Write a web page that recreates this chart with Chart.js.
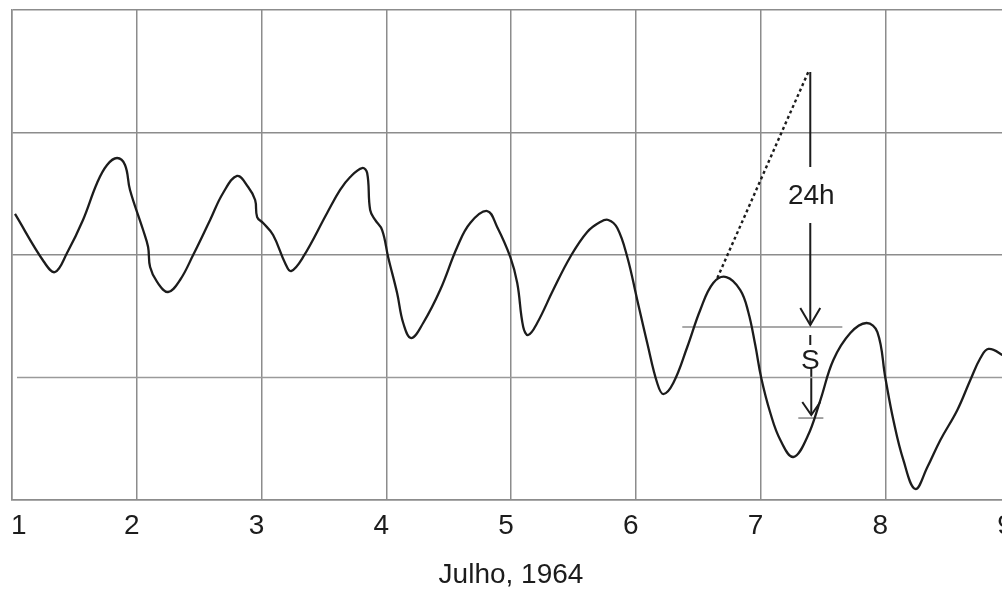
<!DOCTYPE html>
<html>
<head>
<meta charset="utf-8">
<script src="https://cdn.jsdelivr.net/npm/chart.js@4/dist/chart.umd.min.js"></script>
<style>
  html, body { margin: 0; padding: 0; overflow: hidden; background: #fff; }
  #wrap { width: 1012px; height: 592px; }
</style>
</head>
<body>
<div id="wrap"><canvas id="chart"></canvas></div>
<script>
// days of July 1964 (x) and water level in grid units (y)
var curveDays = [1.024, 1.257, 1.345, 1.441, 1.569, 1.682, 1.762, 1.842, 1.906, 1.946,
  2.051, 2.091, 2.107, 2.163, 2.251, 2.347, 2.452, 2.588, 2.692, 2.804, 2.893, 2.949, 2.965,
  3.013, 3.093, 3.189, 3.237, 3.334, 3.526, 3.630, 3.711, 3.807, 3.847, 3.871, 3.911, 3.967,
  4.015, 4.087, 4.136, 4.200, 4.296, 4.432, 4.569, 4.673, 4.809, 4.889, 4.994,
  5.050, 5.098, 5.138, 5.210, 5.338, 5.475, 5.611, 5.715, 5.780, 5.852, 5.932,
  6.012, 6.092, 6.172, 6.221, 6.301, 6.413, 6.517, 6.621, 6.726, 6.838, 6.902, 6.958,
  7.006, 7.079, 7.159, 7.263, 7.375, 7.480, 7.584, 7.720, 7.849, 7.937,
  8.001, 8.065, 8.145, 8.241, 8.338, 8.442, 8.578, 8.682, 8.763, 8.827, 8.939, 9.003];
var curveLevel = [2.335, 1.943, 1.861, 2.016, 2.286, 2.588, 2.735, 2.792, 2.735, 2.531,
  2.204, 2.065, 1.902, 1.780, 1.698, 1.796, 2.000, 2.286, 2.506, 2.645, 2.555, 2.449, 2.310,
  2.261, 2.163, 1.935, 1.869, 1.984, 2.343, 2.531, 2.637, 2.710, 2.669, 2.367, 2.286, 2.204,
  1.984, 1.690, 1.445, 1.322, 1.445, 1.714, 2.065, 2.261, 2.359, 2.229, 1.984,
  1.771, 1.412, 1.347, 1.445, 1.714, 1.984, 2.188, 2.269, 2.286, 2.220, 1.984,
  1.633, 1.282, 0.955, 0.865, 0.955, 1.249, 1.551, 1.771, 1.820, 1.714, 1.535, 1.265,
  0.996, 0.710, 0.490, 0.351, 0.514, 0.816, 1.143, 1.363, 1.445, 1.371,
  0.996, 0.653, 0.327, 0.090, 0.269, 0.490, 0.735, 0.980, 1.159, 1.233, 1.184, 1.127];

var dayTicks = [1, 2, 3, 4, 5, 6, 7, 8, 9];
var axisTitle = 'Julho, 1964';

// reference line across the chart
var baseDays = [1.04, 9];
var baseLevel = [1, 1];

// annotation: dotted 24h construction line
var dotDays = [6.654, 7.383];
var dotLevel = [1.812, 3.494];

// 24h arrow (upper part, lower part, head)
var arrowTopDays = [7.399, 7.399];
var arrowTopLevel = [3.494, 2.718];
var arrowMidDays = [7.399, 7.399];
var arrowMidLevel = [2.261, 1.429];
var headOneDays = [7.319, 7.399, 7.479];
var headOneLevel = [1.567, 1.429, 1.567];

// S marker
var sRuleDays = [6.373, 7.656];
var sRuleLevel = [1.412, 1.412];
var sDashDays = [7.399, 7.399];
var sDashLevel = [1.347, 1.265];
var sArrowDays = [7.407, 7.407];
var sArrowLevel = [1.078, 0.694];
var headTwoDays = [7.335, 7.407, 7.479];
var headTwoLevel = [0.800, 0.694, 0.800];
var sFootDays = [7.303, 7.504];
var sFootLevel = [0.669, 0.669];

var noteTexts = ['24h', 'S'];
var noteDays = [7.407, 7.399];
var noteLevels = [2.482, 1.135];

function pts(xs, ys) {
  return xs.map(function (d, i) { return { x: d, y: ys[i] }; });
}

var ink = '#1c1c1c';
var gridGray = '#8c8c8c';
var fontFamily = '"Liberation Sans", Arial, sans-serif';

function seg(xs, ys, color, width, dash) {
  return {
    data: pts(xs, ys),
    borderColor: color,
    borderWidth: width,
    borderDash: dash || [],
    pointRadius: 0,
    tension: 0,
    fill: false
  };
}

var notesPlugin = {
  id: 'notes',
  afterDatasetsDraw: function (chart) {
    var ctx = chart.ctx, x = chart.scales.x, y = chart.scales.y;
    ctx.save();
    ctx.font = '28px ' + fontFamily;
    ctx.fillStyle = ink;
    ctx.textAlign = 'center';
    ctx.textBaseline = 'middle';
    noteTexts.forEach(function (t, i) {
      ctx.fillText(t, x.getPixelForValue(noteDays[i]), y.getPixelForValue(noteLevels[i]));
    });
    ctx.restore();
  }
};

var ctx = document.getElementById('chart').getContext('2d');
var chart = new Chart(ctx, {
  type: 'line',
  data: {
    datasets: [
      {
        data: pts(curveDays, curveLevel),
        borderColor: ink,
        borderWidth: 2.3,
        pointRadius: 0,
        tension: 0.4,
        fill: false
      },
      seg(baseDays, baseLevel, '#9a9a9a', 1.6),
      seg(dotDays, dotLevel, ink, 2.4, [3, 3]),
      seg(arrowTopDays, arrowTopLevel, ink, 2),
      seg(arrowMidDays, arrowMidLevel, ink, 2),
      seg(headOneDays, headOneLevel, ink, 2),
      seg(sRuleDays, sRuleLevel, '#8c8c8c', 1.6),
      seg(sDashDays, sDashLevel, ink, 2),
      seg(sArrowDays, sArrowLevel, ink, 2),
      seg(headTwoDays, headTwoLevel, ink, 2),
      seg(sFootDays, sFootLevel, '#8c8c8c', 1.6)
    ]
  },
  options: {
    responsive: true,
    maintainAspectRatio: false,
    animation: false,
    layout: { padding: { left: 12, top: 10, right: 2, bottom: 0 } },
    plugins: { legend: { display: false }, tooltip: { enabled: false } },
    scales: {
      x: {
        type: 'linear',
        min: dayTicks[0],
        max: dayTicks[dayTicks.length - 1],
        afterBuildTicks: function (scale) {
          scale.ticks = dayTicks.map(function (d) { return { value: d }; });
        },
        afterFit: function (scale) {
          scale.height = 92;
          scale.paddingLeft = 0;
          scale.paddingRight = 0;
        },
        grid: { color: gridGray, lineWidth: 1.5, drawTicks: false },
        border: { color: gridGray, width: 1.5 },
        ticks: {
          padding: 9,
          labelOffset: -5,
          color: ink,
          font: { family: fontFamily, size: 28 },
          maxRotation: 0,
          autoSkip: false,
          // first label sits right of its line in the original, the rest left
          callback: function (v) { return v === 1 ? '   1' : String(v); }
        },
        title: {
          display: true,
          text: axisTitle,
          color: ink,
          font: { family: fontFamily, size: 28 },
          padding: { top: 0, bottom: 0 }
        }
      },
      y: {
        type: 'linear',
        min: 0,
        max: 4,
        afterFit: function (scale) {
          scale.width = 0;
          scale.paddingTop = 0;
          scale.paddingBottom = 0;
        },
        ticks: { display: false, stepSize: 1 },
        grid: {
          drawTicks: false,
          lineWidth: 1.5,
          color: function (c) {
            return c.tick && c.tick.value === 1 ? 'rgba(0,0,0,0)' : gridGray;
          }
        },
        border: { color: gridGray, width: 1.5 }
      }
    }
  },
  plugins: [notesPlugin]
});
</script>
</body>
</html>
